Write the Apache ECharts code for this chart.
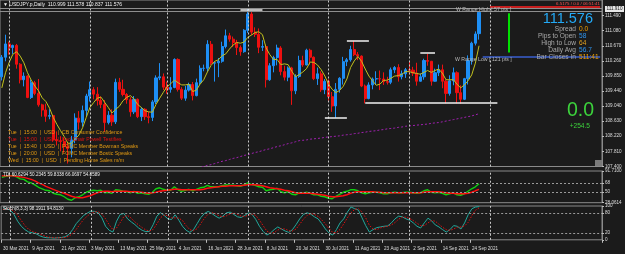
<!DOCTYPE html>
<html>
<head>
<meta charset="utf-8">
<script src="https://cdn.jsdelivr.net/npm/echarts@6/dist/echarts.min.js"></script>
<style>
  html, body { margin: 0; padding: 0; background: #1b1b1b; }
  #chart { width: 625px; height: 254px; }
</style>
</head>
<body>
<div id="chart"></div>
<script>
// USDJPY.p daily bars, 30 Mar 2021 .. 28 Sep 2021
var opens = [
  109.83,110.36,110.72,110.62,110.68,110.17,109.75,109.85,109.27,109.67,
  109.38,109.07,108.93,108.76,108.78,108.13,108.10,108.08,107.94,107.89,
  108.12,108.71,108.60,108.92,109.31,109.48,109.36,109.19,109.08,108.59,
  108.79,108.61,109.68,109.49,109.35,109.21,108.88,109.22,108.75,108.95,
  108.75,108.73,109.15,109.80,109.83,109.55,109.49,109.54,110.30,109.49,
  109.25,109.47,109.62,109.32,109.67,110.06,110.06,110.71,110.20,110.21,
  110.25,110.65,110.94,110.85,110.76,110.62,110.51,111.09,111.53,111.04,
  110.98,110.63,110.65,109.75,110.13,110.35,110.61,109.97,109.82,110.07,
  109.45,109.84,110.27,110.15,110.55,110.36,109.78,109.91,109.48,109.71,
  109.29,109.04,109.49,109.79,110.24,110.29,110.57,110.43,110.39,109.58,
  109.24,109.61,109.77,109.78,109.77,109.70,109.68,110.02,110.08,109.83,
  109.91,110.02,110.01,109.93,109.71,109.83,110.27,110.25,109.71,109.94,
  110.02,109.71,109.38,109.72,109.94,109.40,109.22,109.78,110.27,110.74,
  110.999];
var highs = [
  110.42,110.97,110.78,110.70,110.72,110.20,109.95,109.87,109.75,109.72,
  109.77,109.10,109.10,108.95,108.80,108.35,108.22,108.18,108.04,108.23,
  108.84,108.90,109.05,109.37,109.70,109.55,109.55,109.30,109.20,108.90,
  108.95,109.78,109.80,109.75,109.39,109.28,109.31,109.24,109.01,108.98,
  108.88,109.20,109.87,110.20,109.92,109.70,109.82,110.33,110.33,109.55,
  109.58,109.67,109.69,109.78,110.14,110.16,110.82,110.80,110.25,110.34,
  110.78,111.11,111.02,110.92,110.83,110.68,111.12,111.66,111.61,111.17,
  111.14,110.82,110.70,110.20,110.40,110.70,110.66,110.13,110.11,110.10,
  109.90,110.40,110.40,110.59,110.59,110.38,110.08,109.98,109.77,109.76,
  109.42,109.66,109.82,110.37,110.34,110.67,110.80,110.50,110.41,109.62,
  109.68,109.81,109.98,110.00,109.95,109.83,110.08,110.12,110.17,110.00,
  110.07,110.24,110.10,110.21,109.92,110.32,110.45,110.26,110.05,110.16,
  110.16,109.75,109.87,110.08,109.98,109.60,109.80,110.41,110.78,111.06,
  111.578];
var lows = [
  109.73,110.25,110.43,110.45,110.05,109.65,109.57,109.25,109.23,109.33,
  109.02,108.75,108.61,108.68,108.07,107.97,107.81,107.77,107.48,107.65,
  108.03,108.40,108.48,108.74,109.16,109.22,109.05,108.98,108.34,108.54,
  108.50,108.55,109.42,109.30,109.10,108.75,108.82,108.71,108.63,108.66,
  108.57,108.63,109.09,109.74,109.47,109.37,109.40,109.52,109.43,109.20,
  109.18,109.43,109.19,109.30,109.61,109.98,109.97,110.15,109.70,109.82,
  110.21,110.60,110.78,110.64,110.42,110.40,110.48,111.02,110.96,110.91,
  110.47,110.53,109.54,109.72,109.95,110.14,109.87,109.73,109.71,109.07,
  109.36,109.80,110.10,110.14,110.16,109.74,109.61,109.42,109.36,109.18,
  108.88,108.72,109.40,109.62,110.12,110.24,110.39,110.28,109.55,109.11,
  109.22,109.49,109.61,109.47,109.61,109.62,109.63,109.93,109.70,109.76,
  109.80,109.89,109.85,109.59,109.70,109.75,110.13,109.59,109.70,109.85,
  109.52,109.11,109.32,109.60,109.11,109.10,109.20,109.62,110.16,110.68,
  110.837];
var closes = [
  110.36,110.72,110.62,110.68,110.17,109.75,109.85,109.27,109.67,109.38,
  109.07,108.93,108.76,108.78,108.13,108.10,108.08,107.94,107.89,108.12,
  108.71,108.60,108.92,109.31,109.48,109.36,109.19,109.08,108.59,108.79,
  108.61,109.68,109.49,109.35,109.21,108.88,109.22,108.75,108.95,108.75,
  108.73,109.15,109.80,109.83,109.55,109.49,109.54,110.30,109.49,109.25,
  109.47,109.62,109.32,109.67,110.06,110.06,110.71,110.20,110.21,110.25,
  110.65,110.94,110.85,110.76,110.62,110.51,111.09,111.53,111.04,110.98,
  110.63,110.65,109.75,110.13,110.35,110.61,109.97,109.82,110.07,109.45,
  109.84,110.27,110.15,110.55,110.36,109.78,109.91,109.48,109.71,109.29,
  109.04,109.49,109.79,110.24,110.29,110.57,110.43,110.39,109.58,109.24,
  109.61,109.77,109.78,109.77,109.70,109.68,110.02,110.08,109.83,109.91,
  110.02,110.01,109.93,109.71,109.83,110.27,110.25,109.71,109.94,110.02,
  109.71,109.38,109.72,109.94,109.40,109.22,109.78,110.27,110.74,110.99,
  111.576];
// yellow short moving average
var maFast = [
  109.53,109.94,110.22,110.44,110.51,110.39,110.21,109.94,109.74,109.58,
  109.45,109.26,109.16,108.98,108.73,108.54,108.37,108.21,108.03,108.03,
  108.15,108.25,108.45,108.73,109.00,109.13,109.25,109.28,109.14,109.00,
  108.85,108.95,109.03,109.18,109.27,109.32,109.23,109.08,109.00,108.91,
  108.88,108.87,109.08,109.25,109.41,109.56,109.64,109.74,109.67,109.61,
  109.61,109.63,109.43,109.47,109.63,109.75,109.96,110.14,110.25,110.29,
  110.40,110.45,110.58,110.69,110.76,110.74,110.77,110.90,110.96,111.03,
  111.05,110.97,110.61,110.43,110.30,110.30,110.16,110.18,110.16,109.98,
  109.83,109.89,109.96,110.05,110.23,110.22,110.15,110.02,109.85,109.63,
  109.49,109.40,109.46,109.57,109.77,110.08,110.26,110.38,110.25,110.04,
  109.85,109.72,109.60,109.63,109.73,109.74,109.79,109.85,109.86,109.90,
  109.97,109.97,109.94,109.92,109.90,109.95,110.00,109.95,110.00,110.04,
  109.93,109.75,109.75,109.75,109.63,109.53,109.61,109.72,109.88,110.20,
  110.67];
// purple slow moving average, first value belongs to bar 45
var maSlowStart = 45;
var maSlow = [
  107.13,107.16,107.18,107.21,107.24,107.26,107.29,107.32,107.34,107.37,
  107.40,107.43,107.45,107.48,107.51,107.54,107.56,107.59,107.62,107.64,
  107.67,107.70,107.72,107.75,107.78,107.80,107.83,107.86,107.88,107.91,
  107.94,107.96,107.99,108.02,108.04,108.07,108.10,108.11,108.12,108.14,
  108.15,108.16,108.17,108.19,108.20,108.21,108.22,108.23,108.25,108.26,
  108.27,108.29,108.30,108.32,108.33,108.35,108.36,108.37,108.39,108.40,
  108.42,108.43,108.44,108.46,108.47,108.49,108.50,108.51,108.52,108.53,
  108.54,108.55,108.57,108.58,108.59,108.61,108.63,108.65,108.67,108.69,
  108.71,108.73,108.75,108.77,108.80,108.83];
// TDI: RSI price line (green) and trade signal (red)
var tdiGreen = [
  79,81,82,83,80,76,75,70,68,64, 59,56,53,52,47,45,44,40,35,33,
  38,40,44,49,52,53,52,53,48,49, 47,54,53,51,50,48,51,47,48,46,
  45,49,56,58,55,53,53,60,54,51, 53,55,52,55,58,59,63,60,60,60,
  62,64,63,63,62,61,64,68,65,63, 60,59,52,54,55,57,50,48,50,45,
  44,48,47,49,47,44,44,41,40,37, 36,41,45,49,51,54,54,52,48,46,
  48,49,49,48,46,46,48,49,48,48, 49,49,48,47,48,52,54,49,48,49,
  47,44,46,48,44,43,46,51,56,60, 66.07];
var tdiRed = [
  82,82,82,82,81,80,79,77,75,72, 68,65,61,58,55,52,49,47,44,41,
  39,38,38,40,42,45,48,50,51,51, 50,51,51,51,51,50,50,50,49,48,
  47,48,49,51,52,53,54,55,55,54, 54,54,54,54,54,55,57,58,59,60,
  61,61,62,62,62,62,63,64,64,64, 63,62,60,58,57,56,55,53,52,50,
  48,47,47,47,47,46,45,44,43,41, 40,40,41,42,44,47,49,50,50,50,
  50,50,49,49,48,48,48,48,48,48, 48,48,48,48,48,49,50,50,50,50,
  49,48,47,47,46,46,46,47,49,52, 54.86];
// Stochastic(8,3,3)
var stochMain = [
  94,92,88,75,55,40,30,23,21,18, 12,8,6,6,5,6,7,9,16,30,
  48,60,72,79,85,84,80,65,40,28, 23,55,75,78,62,53,45,35,28,24,
  25,45,70,80,72,62,60,74,58,40, 28,22,30,48,66,78,84,78,70,64,
  70,80,82,75,68,66,72,80,75,60, 40,25,14,20,30,38,32,26,22,30,
  45,62,75,80,76,68,62,48,32,20, 14,30,50,62,82,97,92,88,65,42,
  23,30,36,38,40,41,50,62,70,68, 62,58,50,40,35,50,64,56,44,38,
  30,23,30,42,40,32,50,75,92,97, 98.19];
var stochSignal = [
  90,92,91,85,73,57,42,31,25,21, 17,13,9,7,6,6,6,7,11,18,
  31,46,60,70,79,83,83,76,62,44, 30,35,51,69,72,64,53,44,36,29,
  26,31,47,65,74,71,65,65,64,57, 42,30,27,33,48,64,76,80,77,71,
  68,71,77,79,75,70,69,73,76,72, 58,42,26,20,21,29,33,32,27,26,
  32,46,61,72,77,75,69,59,47,33, 22,21,31,47,65,80,90,92,82,65,
  43,32,30,35,38,40,44,51,61,67, 67,63,57,49,42,42,50,57,55,46,
  37,30,28,32,37,38,41,52,72,88, 94.81];

var priceTicks = [111.490,111.080,110.670,110.260,109.850,109.440,109.040,108.630,108.220,107.810,107.400];
var tdiTicks = [91.71, 68, 50, 28.0614];
var tdiTickText = {'91.71': '91.7100', '68': '68', '50': '50', '28.0614': '28.0614'};
var tdiLevels = [68, 50];
var stochTicks = [100, 80, 20, 0];
var stochLevels = [80, 20];
var dateTicks = ['30 Mar 2021','9 Apr 2021','21 Apr 2021','3 May 2021','13 May 2021','25 May 2021',
  '4 Jun 2021','16 Jun 2021','28 Jun 2021','8 Jul 2021','20 Jul 2021','30 Jul 2021','11 Aug 2021',
  '23 Aug 2021','2 Sep 2021','14 Sep 2021','24 Sep 2021'];
var monthStarts = ['1 Apr 2021','3 May 2021','1 Jun 2021','1 Jul 2021','2 Aug 2021','1 Sep 2021','1 Oct 2021'];
// [from bar, to bar, price]
var whiteSegs = [[65,71,111.64],[88,94,108.71],[94,100,110.80],[114,118,110.47],[99,135,109.12]];
var rangeHigh = [133, 163, 111.74];
var rangeLow = [131, 163, 110.36];
var dayBar = [138, 111.55, 110.49];
var bidLines = [111.685, 111.61];
var newsRows = [
  ['Tue  |  15:00  |  USD  |  CB Consumer Confidence', '#e39a12'],
  ['Tue  |  15:00  |  USD  |  Fed Chair Powell Testifies', '#e01010'],
  ['Tue  |  15:40  |  USD  |  FOMC Member Bowman Speaks', '#e39a12'],
  ['Tue  |  20:00  |  USD  |  FOMC Member Bostic Speaks', '#e39a12'],
  ['Wed  |  15:00  |  USD  |  Pending Home Sales m/m', '#e39a12']
];
var infoRows = [
  ['Spread', '0.0', '#f0a000'],
  ['Pips to Open', '58', '#2f95f0'],
  ['High to Low', '64', '#e0a020'],
  ['Daily Avg', '56.7', '#2f95f0'],
  ['Bar Closes In', '511:41', '#f0a000']
];

// category slots: weekdays from 30 Mar 2021
var months = ['Jan','Feb','Mar','Apr','May','Jun','Jul','Aug','Sep','Oct','Nov','Dec'];
var dates = [];
var d = new Date(Date.UTC(2021, 2, 30));
while (dates.length < 164) {
  var wd = d.getUTCDay();
  if (wd !== 0 && wd !== 6) dates.push(d.getUTCDate() + ' ' + months[d.getUTCMonth()] + ' ' + d.getUTCFullYear());
  d.setUTCDate(d.getUTCDate() + 1);
}

var candles = opens.map(function (o, i) { return [o, closes[i], lows[i], highs[i]]; });
var slowData = [];
for (var i = 0; i < maSlowStart; i++) slowData.push(null);
slowData = slowData.concat(maSlow);

var FONT = '"Liberation Sans", Arial, sans-serif';
var GRID_W = 602;
var sepLines = monthStarts.map(function (m) {
  return { xAxis: m, lineStyle: { color: '#c8c8c8', type: [2, 2], width: 1 } };
});

var mainMarks = sepLines.slice();
whiteSegs.forEach(function (s) {
  mainMarks.push([{ coord: [s[0], s[2]], lineStyle: { color: '#f2f2f2', width: 1.5, type: 'solid' } },
                  { coord: [s[1], s[2]] }]);
});
mainMarks.push([{ coord: [rangeHigh[0], rangeHigh[2]], lineStyle: { color: '#ff2020', width: 1.5, type: 'solid' } },
                { coord: [rangeHigh[1], rangeHigh[2]] }]);
mainMarks.push([{ coord: [rangeLow[0], rangeLow[2]], lineStyle: { color: '#3a5fd0', width: 1.5, type: 'solid' } },
                { coord: [rangeLow[1], rangeLow[2]] }]);
mainMarks.push([{ coord: [dayBar[0], dayBar[1]], lineStyle: { color: '#00e000', width: 2, type: 'solid' } },
                { coord: [dayBar[0], dayBar[2]] }]);
bidLines.forEach(function (p) {
  mainMarks.push({ yAxis: p, lineStyle: { color: '#8e8e8e', width: 1, type: 'solid' } });
});

function levelMarks(levels) {
  return sepLines.concat(levels.map(function (v) {
    return { yAxis: v, lineStyle: { color: '#9a9a9a', type: [2, 2], width: 1 } };
  }));
}

function mk(data) {
  return { silent: true, symbol: ['none', 'none'], label: { show: false }, animation: false, data: data };
}

var axisLabelStyle = { color: '#dedede', fontSize: 4.6, fontFamily: FONT, margin: 3 };

function yAx(grid, min, max, ticks, fmt) {
  return {
    gridIndex: grid, type: 'value', position: 'right', min: min, max: max,
    splitLine: { show: false },
    axisLine: { show: true, lineStyle: { color: '#8a8a8a' } },
    axisTick: { show: true, length: 2, customValues: ticks, lineStyle: { color: '#bdbdbd' } },
    axisLabel: Object.assign({ customValues: ticks, formatter: fmt }, axisLabelStyle)
  };
}

function xAx(grid, labels) {
  var isTick = function (idx, v) { return dateTicks.indexOf(v) >= 0; };
  return {
    gridIndex: grid, type: 'category', data: dates, boundaryGap: true,
    axisLine: { show: false },
    axisTick: { show: labels, interval: isTick, length: 3, lineStyle: { color: '#bdbdbd' } },
    axisLabel: labels ? Object.assign({}, axisLabelStyle, { interval: isTick, align: 'left', margin: 6 }) : { show: false },
    splitLine: { show: false }
  };
}

var graphics = [];
function txt(text, x, y, color, size, align, weight) {
  graphics.push({
    type: 'text', silent: true, z: 100,
    style: { text: text, x: x, y: y, fill: color, font: (weight || 'normal') + ' ' + size + 'px ' + FONT,
             align: align || 'left', verticalAlign: 'middle' }
  });
}
txt('\u25BC USDJPY.p,Daily  110.999 111.578 110.837 111.576', 3, 5, '#f0f0f0', 5);
newsRows.forEach(function (r, k) { txt(r[0], 8, 133 + k * 7, r[1], 5.2); });
txt('W Range High [ 57 pts ]', 456, 10, '#b8b8b8', 5.2);
txt('W Range Low [ 121 pts ]', 455, 59.5, '#b8b8b8', 5.2);
txt('6.5175 / 0.0 / 06:51:41', 600, 3.4, '#ff5050', 4.4, 'right');
txt('111.576', 593, 19, '#23a9f5', 14.5, 'right');
infoRows.forEach(function (r, k) {
  txt(r[0], 576, 29 + k * 7, '#a8a8a8', 6.6, 'right');
  txt(r[1], 579, 29 + k * 7, r[2], 6.6, 'left');
});
txt('0.0', 594, 111, '#3cd23c', 19.5, 'right');
txt('+254.5', 590, 126, '#3cd23c', 6.6, 'right');
txt('TDI 60.6294 50.2345 59.8338 66.0697 54.8589', 3, 174.5, '#f0f0f0', 4.6);
txt('Stoch(8,3,3) 98.1911 94.8130', 3, 208.5, '#f0f0f0', 4.6);
// top-of-scale box label
graphics.push({ type: 'rect', silent: true, z: 99, shape: { x: 605, y: 6, width: 19, height: 6 },
  style: { fill: '#e8e8e8' } });
txt('111.910', 614.5, 9, '#202020', 4.6, 'center');
// small scroll marker, bottom right of the price pane
graphics.push({ type: 'rect', silent: true, z: 99, shape: { x: 595, y: 160, width: 7, height: 6 },
  style: { fill: '#7a7a7a' } });

var gridStyle = { show: true, borderColor: '#8a8a8a', borderWidth: 1, containLabel: false };

var chart = echarts.init(document.getElementById('chart'), null, { renderer: 'canvas' });
chart.setOption({
  animation: false,
  backgroundColor: '#1b1b1b',
  grid: [
    Object.assign({ left: 0, top: 0, width: GRID_W, height: 166.5 }, gridStyle),
    Object.assign({ left: 0, top: 171, width: GRID_W, height: 31.7 }, gridStyle),
    Object.assign({ left: 0, top: 206, width: GRID_W, height: 33.8 }, gridStyle)
  ],
  xAxis: [xAx(0, false), xAx(1, false), xAx(2, true)],
  yAxis: [
    yAx(0, 107.40, 111.91, priceTicks, function (v) { return v.toFixed(3); }),
    yAx(1, 28.0614, 91.71, tdiTicks, function (v) { return tdiTickText[String(v)] || String(v); }),
    yAx(2, 0, 100, stochTicks, function (v) { return String(v); })
  ],
  series: [
    {
      type: 'candlestick', xAxisIndex: 0, yAxisIndex: 0, data: candles, barWidth: 2.6,
      itemStyle: { color: '#1e8ff5', color0: '#ee1010', borderColor: '#1e8ff5', borderColor0: '#ee1010', borderWidth: 1 },
      markLine: mk(mainMarks)
    },
    {
      type: 'line', xAxisIndex: 0, yAxisIndex: 0, data: maFast, symbol: 'none',
      lineStyle: { color: '#c2c21e', width: 1 }, z: 3
    },
    {
      type: 'line', xAxisIndex: 0, yAxisIndex: 0, data: slowData, symbol: 'none', clip: true,
      lineStyle: { color: '#a020b0', width: 1, type: [2, 2] }
    },
    {
      type: 'line', xAxisIndex: 1, yAxisIndex: 1, data: tdiGreen, symbol: 'none',
      lineStyle: { color: '#10d010', width: 1.4 }, markLine: mk(levelMarks(tdiLevels))
    },
    {
      type: 'line', xAxisIndex: 1, yAxisIndex: 1, data: tdiRed, symbol: 'none',
      lineStyle: { color: '#ff1010', width: 1.4 }
    },
    {
      type: 'line', xAxisIndex: 2, yAxisIndex: 2, data: stochMain, symbol: 'none',
      lineStyle: { color: '#22a89c', width: 1 }, markLine: mk(levelMarks(stochLevels))
    },
    {
      type: 'line', xAxisIndex: 2, yAxisIndex: 2, data: stochSignal, symbol: 'none',
      lineStyle: { color: '#e01010', width: 1, type: [1.5, 1.5] }
    }
  ],
  graphic: graphics
});
window.onresize = function () { chart.resize(); };
</script>
</body>
</html>
